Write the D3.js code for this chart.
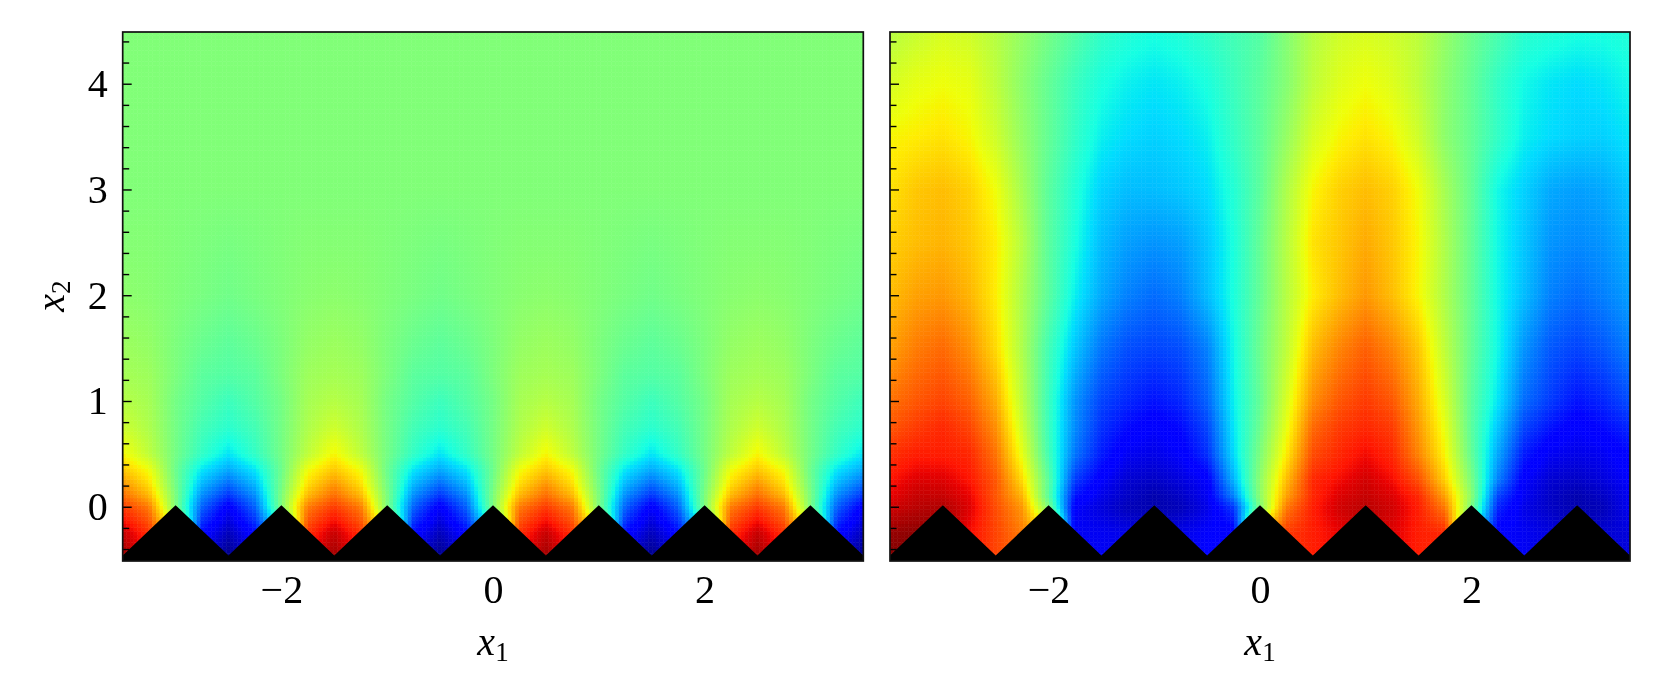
<!DOCTYPE html>
<html><head><meta charset="utf-8">
<script src="https://cdn.jsdelivr.net/npm/d3@7"></script>
<style>
html,body{margin:0;padding:0;background:#fff;overflow:hidden}
#wrap{position:relative;width:1662px;height:699px}
canvas,svg{position:absolute;left:0;top:0}
text{font-family:"Liberation Serif",serif;fill:#000}
</style></head><body><div id="wrap"></div>
<script>
// x1 positions of the sampled columns
const columnsX = [-3.5,-3.25,-3,-2.75,-2.5,-2.25,-2,-1.75,-1.5,-1.25,-1,-0.75,-0.5,-0.25,0,0.25,0.5,0.75,1,1.25,1.5,1.75,2,2.25,2.5,2.75,3,3.25,3.5];

// Left panel: field (percent of colour range)
const leftRowsY = [4.5,3,2.5,2,1.5,1.25,1,0.75,0.5,0.35,0.2,0.1,0,-0.25,-0.5];
const leftValues = [
[50.5,50.5,50.5,50.5,50.5,50.5,50.5,50.5,50.5,50.5,50.5,50.5,50.5,50.5,50.5,50.5,50.5,50.5,50.5,50.5,50.5,50.5,50.5,50.5,50.5,50.5,50.5,50.5,50.5],
[50.5,50.5,50.5,50.5,50.5,50.5,50.5,50.5,50.5,50.5,50.5,50.5,50.5,50.5,50.5,50.5,50.5,50.5,50.5,50.5,50.5,50.5,50.5,50.5,50.5,50.5,50.5,50.5,50.5],
[51,51,50.5,50,49.5,50,50.5,51,51,51,50.5,50,49.5,50,50.5,51,51,51,50.5,50,49.5,50,50.5,51,51,51,50.5,50,49.5],
[52,51.5,50.5,49.5,48.5,49.5,50.5,51.5,52,51.5,50.5,49.5,48.5,49.5,50.5,51.5,52,51.5,50.5,49.5,48.5,49.5,50.5,51.5,52,51.5,50.5,49.5,48.5],
[54,53,50,47.5,46,47.5,50,53,54,53,50,47.5,46,47.5,50,53,54,53,50,47.5,46,47.5,50,53,54,53,50,47.5,46],
[55,54,50,46,45,46,50,54,55,54,50,46,45,46,50,54,55,54,50,46,45,46,50,54,55,54,50,46,45],
[57,55,49,45,42,45,49,55,57,55,49,45,42,45,49,55,57,55,49,45,42,45,49,55,57,55,49,45,42],
[60,56,49,43,40,43,49,56,60,56,49,43,40,43,49,56,60,56,49,43,40,43,49,56,60,56,49,43,40],
[65,58,49,41,35,41,49,58,65,58,49,41,35,41,49,58,65,58,49,41,35,41,49,58,65,58,49,41,35],
[70,64,48,35,29,35,48,64,70,64,48,35,29,35,48,64,70,64,48,35,29,35,48,64,70,64,48,35,29],
[76,68,49,30,22,30,49,68,76,68,49,30,22,30,49,68,76,68,49,30,22,30,49,68,76,68,49,30,22],
[80,72,50,26,17,26,50,72,80,72,50,26,17,26,50,72,80,72,50,26,17,26,50,72,80,72,50,26,17],
[85,78,50,22,11,22,50,78,85,78,50,22,11,22,50,78,85,78,50,22,11,22,50,78,85,78,50,22,11],
[94,86,65,13,5,13,35,86,94,86,65,13,5,13,35,86,94,86,65,13,5,13,35,86,94,86,65,13,5],
[98,90,65,8,0,8,35,90,98,90,65,8,0,8,35,90,98,90,65,8,0,8,35,90,98,90,65,8,0]
];

// Right panel: field (percent of colour range)
const rightRowsY = [4.5,4,3.5,3,2.5,2,1.5,1,0.75,0.5,0.25,0.1,0,-0.25,-0.5];
const rightValues = [
[57,59,61,60,57,53,49,45,41,39,38,39,41,43,45,51,57,60,61,60,58,53,48,44,40,39,38,38,39],
[61,63,64,63,58,52,47,42,38,36,35,36,38,42,46,51,58,62,64,62,58,52,47,41,37,35,34,35,37],
[65,66,67,65,60,53,47,41,36,34,33,34,36,41,46,53,61,65,67,65,60,52,47,41,36,34,33,33,35],
[67,70,71,69,64,55,46,39,33,31,31,32,34,39,46,56,65,69,71,69,64,55,47,37,33,29,28,29,32],
[69,71,72,70,66,57,46,38,31,28,27,28,32,38,47,57,67,70,73,70,65,56,47,37,32,27,26,27,30],
[71,74,75,72,66,56,46,36,29,25,23,25,31,38,47,57,66,71,75,71,65,56,47,37,31,25,23,25,28],
[74,78,80,76,68,56,43,32,24,20,19,20,25,37,48,58,71,77,81,77,70,58,47,37,27,21,19,21,25],
[79,82,84,81,73,58,42,27,19,16,14,16,22,36,47,61,76,82,85,82,73,61,46,35,23,18,14,16,20],
[82,85,87,84,76,60,42,26,17,13,11,13,19,35,48,63,80,85,87,85,75,63,46,32,19,14,11,13,16],
[86,88,88,87,79,63,43,24,15,10,9,11,17,34,50,66,83,87,90,87,77,65,47,29,15,10,9,10,13],
[89,92,92,89,82,68,46,18,11,7,6,8,11,30,52,71,87,90,93,90,83,69,50,25,11,7,6,8,11],
[91,94,94,91,82,72,46,14,9,6,4,6,10,25,52,74,87,92,94,92,87,74,52,19,10,6,4,6,10],
[93,95,96,92,83,75,50,11,8,5,4,5,9,18,50,78,88,93,95,93,88,78,50,16,9,6,4,5,10],
[98,99,98,90,84,78,70,10,10,9,6,9,11,11,70,85,88,91,95,92,88,87,40,11,10,8,4,7,8],
[100,100,98,90,84,80,70,10,10,9,6,9,11,11,70,85,88,91,95,92,88,87,40,11,10,8,4,7,8]
];

// Black rough wall outline
const wallX = [-3.5,-3,-2.5,-2,-1.5,-1,-0.5,0,0.5,1,1.5,2,2.5,3,3.5];
const wallY = [-0.46,0.015,-0.46,0.015,-0.46,0.015,-0.46,0.015,-0.46,0.015,-0.46,0.015,-0.46,0.015,-0.46];

// Ticks
const xTickValues = [-2,0,2];
const xTickLabels = ["\u22122","0","2"];
const yTickValues = [0,1,2,3,4];
const yTickLabels = ["0","1","2","3","4"];
const yMinorTicks = [-0.4,-0.2,0.2,0.4,0.6,0.8,1.2,1.4,1.6,1.8,2.2,2.4,2.6,2.8,3.2,3.4,3.6,3.8,4.2,4.4];
const xDomain = [-3.5,3.5];
const yDomain = [-0.513,4.489];
const xTitle = ["x","1"];
const yTitle = ["x","2"];

// jet colormap segments
const rCh = d3.scaleLinear().domain([0,.35,.66,.89,1]).range([0,0,1,1,.5]).clamp(true);
const gCh = d3.scaleLinear().domain([0,.125,.375,.64,.91,1]).range([0,0,1,1,0,0]).clamp(true);
const bCh = d3.scaleLinear().domain([0,.11,.34,.65,1]).range([.5,1,1,0,0]).clamp(true);
const pct = d3.scaleLinear().domain([0,100]).range([0,1]);
const jet = v => { const t = pct(v); return `rgb(${Math.round(rCh(t)*255)},${Math.round(gCh(t)*255)},${Math.round(bCh(t)*255)})`; };

const W = 1662, H = 699;
const panels = [
 {x0:122.7,x1:863.3,rows:leftRowsY,values:leftValues,yLabels:true},
 {x0:890,x1:1630,rows:rightRowsY,values:rightValues,yLabels:false}
];
const top_ = 32, bottom_ = 561;
const labelSize = 40, subSize = 27;

const wrap = d3.select("#wrap");
const canvas = wrap.append("canvas").attr("width",W).attr("height",H).node();
const ctx = canvas.getContext("2d");
const svg = wrap.append("svg").attr("width",W).attr("height",H);

function shade(rows, values, x, y){
  // gouraud-style shading between the values read at the grid nodes
  const ic = Math.min(columnsX.length-2, Math.max(0, d3.bisectRight(columnsX, x)-1));
  const asc = rows.map(d=>-d);
  const ir = Math.min(rows.length-2, Math.max(0, d3.bisectRight(asc, -y)-1));
  const tx = (x-columnsX[ic])/(columnsX[ic+1]-columnsX[ic]);
  const ty = (rows[ir]-y)/(rows[ir]-rows[ir+1]);
  const a = d3.interpolateNumber(values[ir][ic], values[ir][ic+1])(tx);
  const b = d3.interpolateNumber(values[ir+1][ic], values[ir+1][ic+1])(tx);
  return d3.interpolateNumber(a,b)(ty);
}

panels.forEach(p=>{
  const x = d3.scaleLinear().domain(xDomain).range([p.x0,p.x1]);
  const y = d3.scaleLinear().domain(yDomain).range([bottom_,top_]);
  const nx = 200, ny = 143;
  const xe = d3.range(nx+1).map(i=>xDomain[0]+(xDomain[1]-xDomain[0])*i/nx);
  const ye = d3.range(ny+1).map(i=>yDomain[0]+(yDomain[1]-yDomain[0])*i/ny);
  // first pass: faded, overlapping, so the seams of the second pass stay faint
  [[0.5,0.6],[1,0]].forEach(([alpha,grow])=>{
    ctx.globalAlpha = alpha;
    for(let i=0;i<nx;i++) for(let j=0;j<ny;j++){
      const v = shade(p.rows,p.values,(xe[i]+xe[i+1])/2,(ye[j]+ye[j+1])/2);
      ctx.fillStyle = jet(v);
      if(grow>0){
        ctx.fillRect(Math.floor(x(xe[i])),Math.floor(y(ye[j+1])),Math.ceil(x(xe[i+1]))-Math.floor(x(xe[i])),Math.ceil(y(ye[j]))-Math.floor(y(ye[j+1])));
      } else {
        ctx.fillRect(x(xe[i]),y(ye[j+1]),x(xe[i+1])-x(xe[i]),y(ye[j])-y(ye[j+1]));
      }
    }
  });
  ctx.globalAlpha = 1;
  const g = svg.append("g");
  // wall
  const area = d3.area().x(d=>x(d[0])).y0(y(yDomain[0])).y1(d=>y(d[1]));
  g.append("path").datum(wallX.map((d,i)=>[d,wallY[i]])).attr("d",area).attr("fill","#000");
  // y ticks
  const minor = d3.axisLeft(y).tickValues(yMinorTicks).tickSizeInner(-6.5).tickSizeOuter(0).tickFormat("");
  const major = d3.axisLeft(y).tickValues(yTickValues).tickSizeInner(-9).tickSizeOuter(0).tickPadding(15)
     .tickFormat((d,i)=>p.yLabels?yTickLabels[i]:"");
  const styleAxis = s=>{ s.select(".domain").remove(); s.selectAll("line").attr("stroke","#000").attr("stroke-width",1.4);
     s.selectAll("text").attr("font-size",labelSize).attr("font-family","Liberation Serif"); };
  g.append("g").attr("transform",`translate(${p.x0},0)`).call(minor).call(styleAxis);
  g.append("g").attr("transform",`translate(${p.x0},0)`).call(major).call(styleAxis);
  // x axis labels
  const xa = d3.axisBottom(x).tickValues(xTickValues).tickSize(0).tickPadding(14).tickFormat((d,i)=>xTickLabels[i]);
  g.append("g").attr("transform",`translate(0,${bottom_})`).call(xa).call(styleAxis);
  // frame
  g.append("rect").attr("x",p.x0).attr("y",top_).attr("width",p.x1-p.x0).attr("height",bottom_-top_)
    .attr("fill","none").attr("stroke","#111").attr("stroke-width",1.7);
  // x title
  const t = g.append("text").attr("x",(p.x0+p.x1)/2).attr("y",655).attr("text-anchor","middle").attr("font-size",labelSize);
  t.append("tspan").attr("font-style","italic").text(xTitle[0]);
  t.append("tspan").attr("font-size",subSize).attr("dy",6).text(xTitle[1]);
  if(p.yLabels){
    const yt = g.append("text").attr("transform",`translate(64,296) rotate(-90)`).attr("text-anchor","middle").attr("font-size",labelSize);
    yt.append("tspan").attr("font-style","italic").text(yTitle[0]);
    yt.append("tspan").attr("font-size",subSize).attr("dy",6).text(yTitle[1]);
  }
});
</script></body></html>
